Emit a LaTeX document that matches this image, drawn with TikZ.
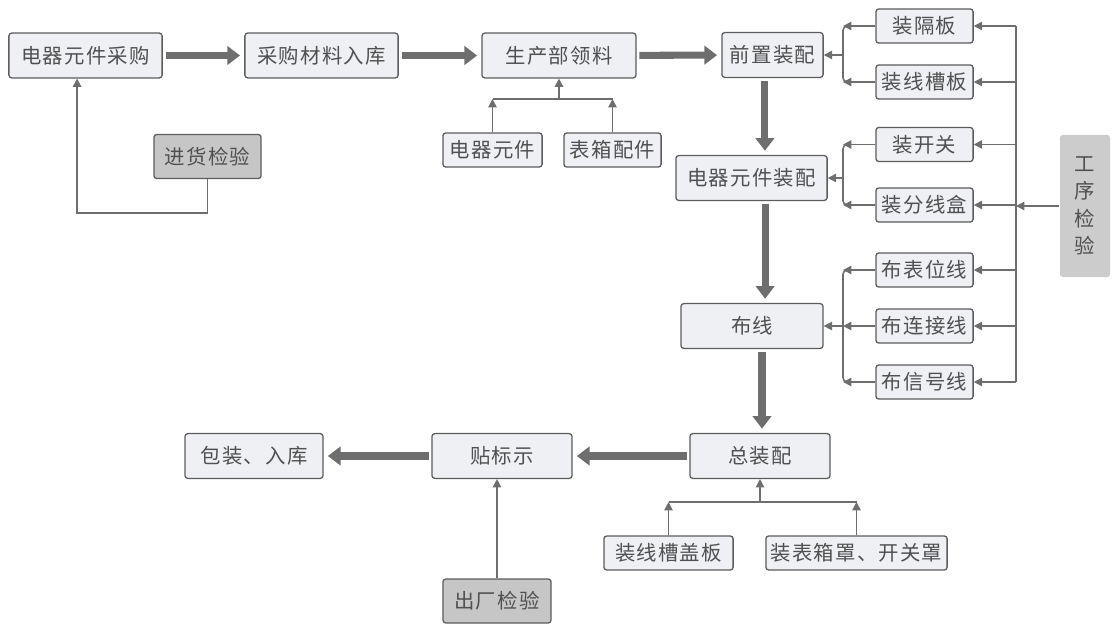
\documentclass[tikz,border=0pt]{standalone}
\usepackage{fontspec}
\usepackage{xcolor}
\usepackage{tikz}
\usetikzlibrary{shapes.geometric, arrows.meta, calc}

\newfontfamily\cjk[LetterSpace=6]{Noto Sans CJK SC}
\newfontfamily\cjkplain{Noto Sans CJK SC}
\definecolor{boxfill}{HTML}{EEF0F4}
\definecolor{boxline}{HTML}{5C5C5C}
\definecolor{checkfill}{HTML}{C6C6C6}
\definecolor{inkgray}{HTML}{505050}
\definecolor{wiregray}{HTML}{6E6E6E}

\begin{document}
\begin{tikzpicture}[
    x=0.025cm, y=-0.025cm,
    step box/.style={draw=boxline, rectangle, rounded corners=2pt, fill=boxfill, line width=0.9pt, minimum height=1.12cm, align=center, text=inkgray, font=\cjk\fontsize{14.5}{16}\selectfont},
    part box/.style={step box, minimum width=2.43cm, minimum height=0.85cm},
    check box/.style={step box, fill=checkfill},
    flow/.style={draw=wiregray, line width=5pt, -{Triangle[length=9pt, width=13pt]}, shorten <=2pt, shorten >=3pt},
    link/.style={draw=wiregray, line width=1.1pt, -{Triangle[length=6pt, width=6pt]}},
    wire/.style={draw=wiregray, line width=1.1pt, rounded corners=3pt}
]
    \useasboundingbox (0,0) rectangle (1113,625);

    % ================= MAIN LINE =================
    \node[step box, minimum width=3.83cm] (caigou) at (85.5, 55.5) {电器元件采购};
    \node[step box, minimum width=3.83cm] (ruku) at (321.5, 55.5) {采购材料入库};
    \node[step box, minimum width=3.85cm] (lingliao) at (559, 55.5) {生产部领料};
    \node[step box, minimum width=2.53cm] (qianzhi) at (772.5, 55) {前置装配};
    \node[step box, minimum width=3.78cm] (yuanjian) at (751.5, 178) {电器元件装配};
    \node[step box, minimum width=3.55cm] (buxian) at (752, 326) {布线};
    \node[step box, minimum width=3.5cm] (zong) at (760, 456) {总装配};
    \node[step box, minimum width=3.5cm] (biaoshi) at (502, 456) {贴标示};
    \node[step box, minimum width=3.45cm] (baozhuang) at (254, 456) {包装、入库};

    % ================= CHECKS =================
    \node[check box, minimum width=2.68cm, minimum height=1.1cm] (jinhuo) at (207.5, 156.5) {进货检验};
    \node[check box, minimum width=2.7cm, minimum height=1.1cm] (chuchang) at (497, 601) {出厂检验};
    \node[check box, draw=none, fill=checkfill!90, minimum width=1.25cm, minimum height=3.55cm, font=\cjkplain\fontsize{14.5}{19.5}\selectfont] (gongxu) at (1085, 206) {工\\序\\检\\验};

    % ================= PARTS =================
    \node[part box, minimum width=2.48cm] (dianqi) at (492.5, 150) {电器元件};
    \node[part box] (biaoxiang) at (612.5, 150) {表箱配件};
    \node[part box] (geban) at (924.5, 26) {装隔板};
    \node[part box] (caoban) at (924.5, 82) {装线槽板};
    \node[part box] (kaiguan) at (924.5, 144.5) {装开关};
    \node[part box] (fenxian) at (924.5, 205) {装分线盒};
    \node[part box] (biaowei) at (924.5, 270) {布表位线};
    \node[part box] (lianjie) at (924.5, 326) {布连接线};
    \node[part box] (xinhao) at (924.5, 382) {布信号线};
    \node[part box, minimum width=3.23cm] (gaiban) at (668.5, 553) {装线槽盖板};
    \node[part box, minimum width=4.53cm] (zhao) at (856.5, 553) {装表箱罩、开关罩};

    % ================= BUS POINTS =================
    \coordinate (llbus) at (559, 99);
    \coordinate (zongbus) at (760, 502);
    \coordinate (qzbus) at (843, 55);
    \coordinate (yjbus) at (843, 178);
    \coordinate (bxbus) at (843, 326);
    \coordinate (rbus) at (1016, 26);

    % ================= FLOW ARROWS =================
    \draw[flow] (caigou) -- (ruku);
    \draw[flow] (ruku) -- (lingliao);
    \draw[flow] (lingliao) -- (qianzhi);
    \draw[flow] ([xshift=-0.19cm]qianzhi.south) -- ([xshift=-0.19cm]qianzhi.south |- yuanjian.north);
    \draw[flow] ([xshift=0.34cm]yuanjian.south) -- ([xshift=0.34cm]yuanjian.south |- buxian.north);
    \draw[flow] ([xshift=0.25cm]buxian.south) -- ([xshift=0.25cm]buxian.south |- zong.north);
    \draw[flow] (zong) -- (biaoshi);
    \draw[flow] (biaoshi) -- (baozhuang);

    % ================= INCOMING CHECK =================
    \draw[link] (jinhuo.south) -- ++(0,34) -| ([xshift=-0.21cm]caigou.south);

    % ================= MATERIALS TO LINGLIAO =================
    \draw[link] (dianqi.north) -- (dianqi.north |- llbus);
    \draw[link] (biaoxiang.north) -- (biaoxiang.north |- llbus);
    \draw[wire] (dianqi.north |- llbus) -- (biaoxiang.north |- llbus);
    \draw[link] (llbus) -- (lingliao.south);

    % ================= FRONT ASSEMBLY =================
    \draw[link] (geban.west) -- (geban.west -| qzbus);
    \draw[link] (caoban.west) -- (caoban.west -| qzbus);
    \draw[wire] ([xshift=3pt]geban.west -| qzbus) -- (geban.west -| qzbus) -- (caoban.west -| qzbus) -- ([xshift=3pt]caoban.west -| qzbus);
    \draw[link] (qzbus) -- (qianzhi.east);

    % ================= COMPONENT ASSEMBLY =================
    \draw[link] (kaiguan.west) -- (kaiguan.west -| yjbus);
    \draw[link] (fenxian.west) -- (fenxian.west -| yjbus);
    \draw[wire] ([xshift=3pt]kaiguan.west -| yjbus) -- (kaiguan.west -| yjbus) -- (fenxian.west -| yjbus) -- ([xshift=3pt]fenxian.west -| yjbus);
    \draw[link] (yjbus) -- (yuanjian.east);

    % ================= WIRING =================
    \draw[link] (biaowei.west) -- (biaowei.west -| bxbus);
    \draw[link] (lianjie.west) -- (lianjie.west -| bxbus);
    \draw[link] (xinhao.west) -- (xinhao.west -| bxbus);
    \draw[wire] ([xshift=3pt]biaowei.west -| bxbus) -- (biaowei.west -| bxbus) -- (xinhao.west -| bxbus) -- ([xshift=3pt]xinhao.west -| bxbus);
    \draw[link] (bxbus) -- (buxian.east);

    % ================= PROCESS CHECK =================
    \draw[wire] (rbus) -- (rbus |- xinhao.east);
    \foreach \p in {geban, caoban, kaiguan, fenxian, biaowei, lianjie, xinhao}
        \draw[link] (rbus |- \p.east) -- (\p.east);
    \draw[link] (gongxu.west) -- (gongxu.west -| rbus);

    % ================= FINAL ASSEMBLY =================
    \draw[link] (gaiban.north) -- (gaiban.north |- zongbus);
    \draw[link] (zhao.north) -- (zhao.north |- zongbus);
    \draw[wire] (gaiban.north |- zongbus) -- (zhao.north |- zongbus);
    \draw[link] (zongbus) -- (zong.south);

    % ================= OUTGOING CHECK =================
    \draw[link] (chuchang.north) -- (chuchang.north |- biaoshi.south);

\end{tikzpicture}
\end{document}
